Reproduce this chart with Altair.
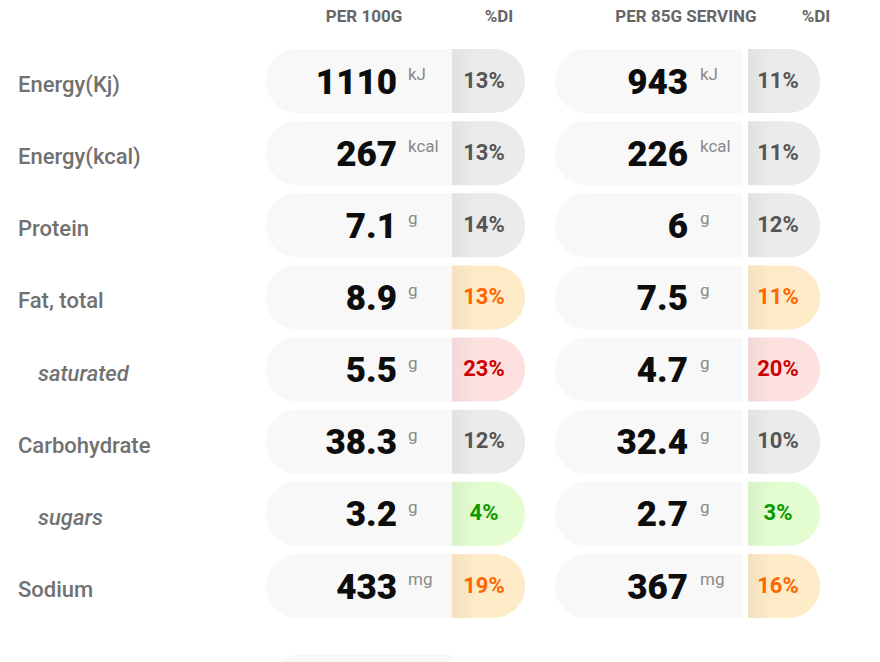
import altair as alt
import pandas as pd

# ---------------- data ----------------
nutrients = ["Energy(Kj)", "Energy(kcal)", "Protein", "Fat, total", "saturated",
             "Carbohydrate", "sugars", "Sodium"]
is_sub_row = [False, False, False, False, True, False, True, False]
units = ["kJ", "kcal", "g", "g", "g", "g", "g", "mg"]
per_100g = [1110, 267, 7.1, 8.9, 5.5, 38.3, 3.2, 433]
di_100g = [13, 13, 14, 13, 23, 12, 4, 19]
per_serving = [943, 226, 6, 7.5, 4.7, 32.4, 2.7, 367]
di_serving = [11, 11, 12, 11, 20, 10, 3, 16]
levels = ["neutral", "neutral", "neutral", "medium", "high", "neutral", "low", "medium"]
column_headers = ["PER 100G", "PER 85G SERVING"]
di_header = "%DI"
extra_pill_rows = [8.4]  # partially visible pill of the next block

level_domain = ["neutral", "medium", "high", "low"]
level_bg = ["#ebebeb", "#feebc8", "#fde1e1", "#e3fcd0"]
level_fg = ["#555555", "#ff6600", "#cc0000", "#0a9a00"]

rows = []
for col, (vals, dis) in enumerate([(per_100g, di_100g), (per_serving, di_serving)]):
    for i, name in enumerate(nutrients):
        rows.append(dict(col=col, row=i, label=name, sub=is_sub_row[i], unit=units[i],
                         value=vals[i], di=dis[i], level=levels[i]))
df = pd.DataFrame(rows)

HALF = 0.4435
yscale = alt.Scale(domain=[0, 7], range=[73, 578], zero=False, nice=False)

base = alt.Chart(df).transform_calculate(
    top=f"datum.row - {HALF}", bottom=f"datum.row + {HALF}",
    vtxt="'' + datum.value", ditxt="datum.di + '%'"
)

bg_scale = alt.Scale(domain=level_domain, range=level_bg)
fg_scale = alt.Scale(domain=level_domain, range=level_fg)

grad = alt.Gradient(
    gradient="linear",
    stops=[alt.GradientStop(color="rgba(0,0,0,0.045)", offset=0),
           alt.GradientStop(color="rgba(0,0,0,0)", offset=0.35)],
    x1=0, x2=1, y1=0, y2=0,
)

R = 31.5
layout = [
    dict(pl=258, vr=444, dl=444, dr=517, tx=389, ux=400, dx=476, hx=356, dhx=491),
    dict(pl=547, vr=734, dl=740, dr=812, tx=680, ux=692, dx=770, hx=678, dhx=808),
]

layers = []
for col, L in enumerate(layout):
    b = base.transform_filter(f"datum.col == {col}")
    yy = dict(y=alt.Y("top:Q", scale=yscale, axis=None), y2="bottom:Q")
    layers.append(b.mark_rect(color="#f8f8f8", cornerRadiusTopLeft=R, cornerRadiusBottomLeft=R)
                  .encode(x=alt.value(L["pl"]), x2=alt.value(L["vr"]), **yy))
    layers.append(b.mark_rect(cornerRadiusTopRight=R, cornerRadiusBottomRight=R)
                  .encode(x=alt.value(L["dl"]), x2=alt.value(L["dr"]),
                          fill=alt.Fill("level:N", scale=bg_scale, legend=None), **yy))
    layers.append(b.mark_rect(fill=grad, cornerRadiusTopRight=R, cornerRadiusBottomRight=R)
                  .encode(x=alt.value(L["dl"]), x2=alt.value(L["dr"]), **yy))
    yrow = alt.Y("row:Q", scale=yscale, axis=None)
    layers.append(b.mark_text(align="right", baseline="alphabetic", dy=12.5, fontSize=35,
                              font="Roboto", fontWeight=900, color="#0d0d0d")
                  .encode(x=alt.value(L["tx"]), y=yrow, text="vtxt:N"))
    layers.append(b.mark_text(align="left", baseline="alphabetic", dy=-1, fontSize=17,
                              font="Roboto", color="#8a8a8a")
                  .encode(x=alt.value(L["ux"]), y=yrow, text="unit:N"))
    layers.append(b.mark_text(align="center", baseline="alphabetic", dy=6.5, fontSize=22,
                              font="Roboto", fontWeight="bold")
                  .encode(x=alt.value(L["dx"]), y=yrow, text="ditxt:N",
                          color=alt.Color("level:N", scale=fg_scale, legend=None)))
    hdr = alt.Chart(pd.DataFrame({"h": [column_headers[col]], "d": [di_header]}))
    layers.append(hdr.mark_text(align="center", baseline="alphabetic", fontSize=17,
                                font="Roboto", fontWeight="bold", color="#666666")
                  .encode(x=alt.value(L["hx"]), y=alt.value(14), text="h:N"))
    layers.append(hdr.mark_text(align="center", baseline="alphabetic", fontSize=17,
                                font="Roboto", fontWeight="bold", color="#666666")
                  .encode(x=alt.value(L["dhx"]), y=alt.value(14), text="d:N"))

# row labels
yrow = alt.Y("row:Q", scale=yscale, axis=None)
layers.append(base.transform_filter("datum.col == 0 && !datum.sub")
              .mark_text(align="left", baseline="alphabetic", dy=11, fontSize=22,
                         font="Roboto", fontWeight=500, color="#717171")
              .encode(x=alt.value(10), y=yrow, text="label:N"))
layers.append(base.transform_filter("datum.col == 0 && datum.sub")
              .mark_text(align="left", baseline="alphabetic", dy=11, fontSize=22,
                         font="Roboto", fontWeight=500, fontStyle="italic", color="#717171")
              .encode(x=alt.value(30), y=yrow, text="label:N"))

# partially visible next pill
extra = alt.Chart(pd.DataFrame({"row": extra_pill_rows})).transform_calculate(
    top=f"datum.row - {HALF}", bottom=f"datum.row + {HALF}")
layers.append(extra.mark_rect(color="#f8f8f8", cornerRadiusTopLeft=R, cornerRadiusBottomLeft=R)
              .encode(x=alt.value(258), x2=alt.value(444),
                      y=alt.Y("top:Q", scale=yscale, axis=None), y2="bottom:Q"))

chart = alt.layer(*layers).properties(
    width=864, height=660, padding=0, autosize=alt.AutoSizeParams(type="none"),
    background="white",
).configure_view(stroke=None)

chart.save("out.html", embed_options={"renderer": "svg", "actions": False})
